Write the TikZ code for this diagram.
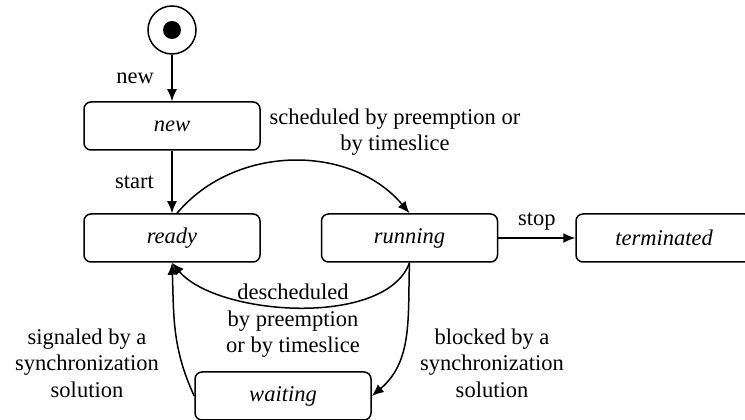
\documentclass[tikz,border=0pt]{standalone}
\usepackage{fontspec}
\setmainfont{Liberation Serif}
\usetikzlibrary{arrows.meta}

\begin{document}
\begin{tikzpicture}[>={Latex[length=12pt,width=10pt]},x=10pt,y=10pt,line width=1.5pt,
  font=\fontsize{22.5}{26.5}\selectfont,
  state/.style={draw,rounded corners=7pt,minimum width=176pt,minimum height=48pt,
    font=\fontsize{22.5}{26.5}\selectfont\itshape},
  lbl/.style={align=center}]
\useasboundingbox (0,0) rectangle (74.5,42);
\node[draw,circle,minimum size=48pt,inner sep=0pt] (init) at (17.2,39) {};
\node[circle,fill,minimum size=18pt,inner sep=0pt] (dot) at (init) {};
\node[state] (new) at (17.2,29.4) {new};
\node[state] (ready) at (17.2,18.2) {ready};
\node[state] (running) at (40.95,18.2) {running};
\node[state] (terminated) at (66.4,18.2) {terminated};
\node[state] (waiting) at (28.3,2.4) {waiting};
\draw[->] (init) -- node[left=14pt] (lnew) {new} (new);
\draw[->] (new) -- node[left=14pt] (lstart) {start} (ready);
\draw[->] ([xshift=5pt]ready.north) to[out=50,in=130] (running.north);
\draw[->] (running.south) to[out=-110,in=-50,looseness=0.75] (ready.south);
\draw[->] (running.south) to[out=-92,in=40] (waiting.east);
\draw[->] (waiting.west) to[out=115,in=-88] (ready.south);
\draw[->] (running) -- node[above=4pt] (lstop) {stop} (terminated);
\node[lbl] (lsched) at (39.5,28.8) {scheduled by preemption or\\by timeslice};
\node[lbl] (ldesched) at (29.3,9.9) {descheduled\\by preemption\\or by timeslice};
\node[lbl] (lsignal) at (8.7,5.7) {signaled by a\\synchronization\\solution};
\node[lbl] (lblock) at (49.2,5.7) {blocked by a\\synchronization\\solution};
\end{tikzpicture}
\end{document}
